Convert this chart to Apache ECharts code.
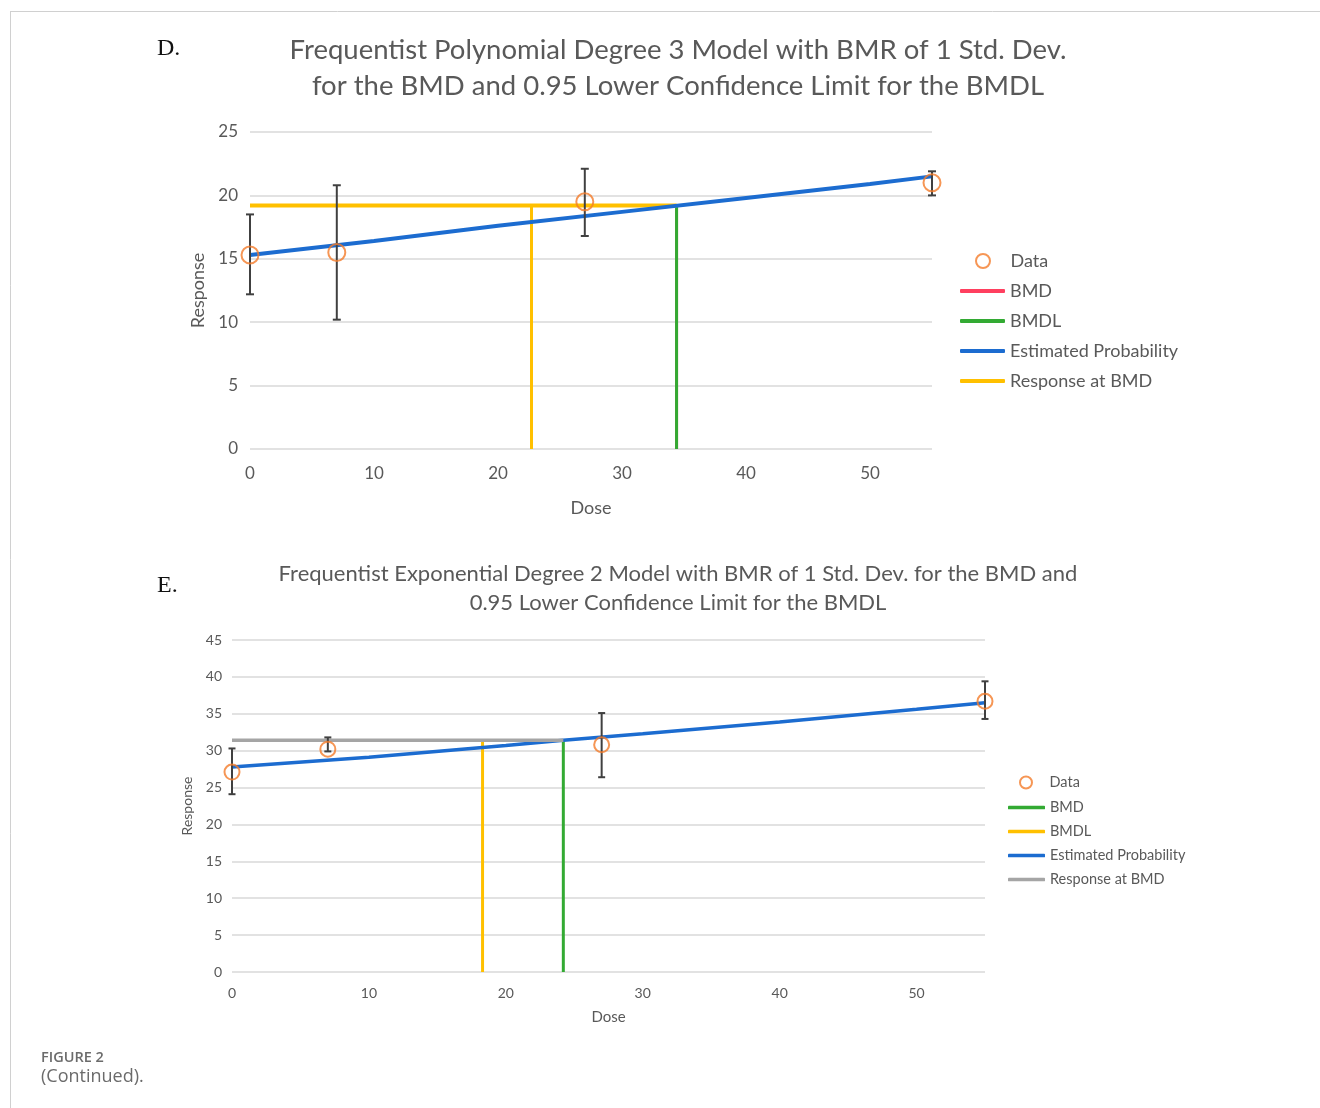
<!DOCTYPE html>
<html>
<head>
<meta charset="utf-8">
<script src="https://cdn.jsdelivr.net/npm/echarts@6/dist/echarts.min.js"></script>
<style>
html,body{margin:0;padding:0;background:#fff;}
#c{width:1320px;height:1108px;}
</style>
</head>
<body>
<div id="c"></div>
<script>
// ---------- Panel D data ----------
const doseD = [0, 7, 27, 55];
const respD = [15.3, 15.5, 19.5, 21.0];
const errLowD = [12.2, 10.2, 16.8, 20.0];
const errHighD = [18.5, 20.8, 22.1, 21.9];
const estDoseD = [0, 10, 20, 30, 40, 50, 55];
const estRespD = [15.3, 16.4, 17.6, 18.7, 19.8, 20.9, 21.5];
const respAtBmdD = 19.2;
const bmdlDoseD = 34.4;
const yellowDoseD = 22.7;
const yTicksD = { min: 0, max: 25, interval: 5 };

// ---------- Panel E data ----------
const doseE = [0, 7, 27, 55];
const respE = [27.1, 30.2, 30.8, 36.7];
const errLowE = [24.1, 29.9, 26.4, 34.3];
const errHighE = [30.3, 31.8, 35.1, 39.4];
const estDoseE = [0, 10, 20, 24.2, 30, 40, 50, 55];
const estRespE = [27.8, 29.1, 30.7, 31.4, 32.3, 33.9, 35.6, 36.5];
const respAtBmdE = 31.4;
const bmdDoseE = 24.2;
const bmdlDoseE = 18.3;
const yTicksE = { min: 0, max: 45, interval: 5 };
const xTicks = { min: 0, max: 55, interval: 10 };

const linesLegendD = ['BMD', 'BMDL', 'Estimated Probability', 'Response at BMD'];
const linesLegendE = ['BMD ', 'BMDL ', 'Estimated Probability ', 'Response at BMD '];

const FONT = 'Lato, "Open Sans", sans-serif';
const TXT = '#595959';
const GRIDC = '#d9d9d9';
const C = { orange: '#f47c2a', blue: '#1c6cd0', yellow: '#ffc000', green: '#33aa33', red: '#ff3f5f', gray: '#a5a5a5', err: '#404040' };

function zip(a, b) { return a.map((v, i) => [v, b[i]]); }
function errData(d, lo, hi) { return d.map((v, i) => [v, lo[i], hi[i]]); }
function errRender(capHalf, lw) {
  return function (params, api) {
    const x = api.value(0), lo = api.value(1), hi = api.value(2);
    const a = api.coord([x, lo]), b = api.coord([x, hi]);
    const st = { stroke: C.err, lineWidth: lw };
    return {
      type: 'group', children: [
        { type: 'line', shape: { x1: a[0], y1: a[1], x2: b[0], y2: b[1] }, style: st },
        { type: 'line', shape: { x1: a[0] - capHalf, y1: a[1], x2: a[0] + capHalf, y2: a[1] }, style: st },
        { type: 'line', shape: { x1: b[0] - capHalf, y1: b[1], x2: b[0] + capHalf, y2: b[1] }, style: st }
      ]
    };
  };
}

function xAxis(gi, fs, margin, gap) {
  return {
    type: 'value', gridIndex: gi, min: xTicks.min, max: xTicks.max, interval: xTicks.interval,
    axisLine: { show: false }, axisTick: { show: false }, splitLine: { show: false },
    axisLabel: { color: TXT, fontFamily: FONT, fontSize: fs, margin: margin, showMaxLabel: false },
    name: 'Dose', nameLocation: 'middle', nameGap: gap,
    nameTextStyle: { color: TXT, fontFamily: FONT, fontSize: fs + 1 }
  };
}
function yAxis(gi, t, fs, margin, gap, nfs) {
  return {
    type: 'value', gridIndex: gi, min: t.min, max: t.max, interval: t.interval,
    axisLine: { show: false }, axisTick: { show: false },
    splitLine: { show: true, lineStyle: { color: GRIDC, width: 1.5 } },
    axisLabel: { color: TXT, fontFamily: FONT, fontSize: fs, margin: margin },
    name: 'Response', nameLocation: 'middle', nameGap: gap,
    nameTextStyle: { color: TXT, fontFamily: FONT, fontSize: nfs }
  };
}
function vline(xv, yv) { return [[xv, 0], [xv, yv]]; }
function hline(x0, x1, yv) { return [[x0, yv], [x1, yv]]; }
function lineSeries(name, gi, data, color, width, z) {
  return {
    name: name, type: 'line', xAxisIndex: gi, yAxisIndex: gi, data: data,
    symbol: 'none', showSymbol: false, clip: false, z: z, silent: true, animation: false,
    lineStyle: { color: color, width: width }, itemStyle: { color: color }
  };
}

const chart = echarts.init(document.getElementById('c'), null, { renderer: 'canvas' });
const option = {
  animation: false,
  backgroundColor: '#fff',
  grid: [
    { left: 250, right: 388, top: 132, height: 317 },
    { left: 232, right: 335, top: 640, height: 332 }
  ],
  xAxis: [xAxis(0, 17, 16, 50), xAxis(1, 14, 14, 38)],
  yAxis: [yAxis(0, yTicksD, 17, 12, 43, 18), yAxis(1, yTicksE, 14, 10, 37, 14)],
  legend: [
    {
      left: 975, top: 252, padding: 0, orient: 'vertical', itemWidth: 45, itemHeight: 14,
      textStyle: { color: TXT, fontFamily: FONT, fontSize: 18, lineHeight: 18 },
      data: ['Data']
    },
    {
      left: 960, top: 282, padding: 0, orient: 'vertical', itemWidth: 45, itemHeight: 4, itemGap: 12,
      icon: 'roundRect',
      textStyle: { color: TXT, fontFamily: FONT, fontSize: 18, lineHeight: 18 },
      data: linesLegendD
    },
    {
      left: 1019, top: 775, padding: 0, orient: 'vertical', itemWidth: 37, itemHeight: 12,
      textStyle: { color: TXT, fontFamily: FONT, fontSize: 14.5, lineHeight: 14 },
      data: ['Data ']
    },
    {
      left: 1008, top: 800, padding: 0, orient: 'vertical', itemWidth: 37, itemHeight: 3.5, itemGap: 9,
      icon: 'roundRect',
      textStyle: { color: TXT, fontFamily: FONT, fontSize: 14.5, lineHeight: 14 },
      data: linesLegendE
    }
  ],
  graphic: [
    { type: 'line', shape: { x1: 10, y1: 11.5, x2: 1320, y2: 11.5 }, style: { stroke: '#d0d0d0', lineWidth: 1 } },
    { type: 'line', shape: { x1: 10.5, y1: 11, x2: 10.5, y2: 1108 }, style: { stroke: '#d0d0d0', lineWidth: 1 } },
    { type: 'text', x: 157, y: 49, style: { text: 'D.', font: '24px "Liberation Serif", serif', fill: '#111', textVerticalAlign: 'middle' } },
    { type: 'text', x: 157, y: 586, style: { text: 'E.', font: '24px "Liberation Serif", serif', fill: '#111', textVerticalAlign: 'middle' } },
    { type: 'text', x: 678, y: 50, style: { text: 'Frequentist Polynomial Degree 3 Model with BMR of 1 Std. Dev.', font: '27.5px ' + FONT, fill: TXT, textAlign: 'center', textVerticalAlign: 'middle' } },
    { type: 'text', x: 678, y: 86, style: { text: 'for the BMD and 0.95 Lower Confidence Limit for the BMDL', font: '27.5px ' + FONT, fill: TXT, textAlign: 'center', textVerticalAlign: 'middle' } },
    { type: 'text', x: 678, y: 574, style: { text: 'Frequentist Exponential Degree 2 Model with BMR of 1 Std. Dev. for the BMD and', font: '22px ' + FONT, fill: TXT, textAlign: 'center', textVerticalAlign: 'middle' } },
    { type: 'text', x: 678, y: 603, style: { text: '0.95 Lower Confidence Limit for the BMDL', font: '22px ' + FONT, fill: TXT, textAlign: 'center', textVerticalAlign: 'middle' } },
    { type: 'text', x: 41, y: 1058, style: { text: 'FIGURE 2', font: '600 14.5px "Open Sans", sans-serif', fill: '#6b6b6b', textVerticalAlign: 'middle' } },
    { type: 'text', x: 41, y: 1077, style: { text: '(Continued).', font: '18px "Open Sans", sans-serif', fill: '#6b6b6b', textVerticalAlign: 'middle' } }
  ],
  series: [
    // ----- Panel D -----
    lineSeries('BMD', 0, vline(bmdlDoseD, respAtBmdD), C.red, 3, 2),
    lineSeries('BMDL', 0, vline(bmdlDoseD, respAtBmdD), C.green, 3, 3),
    lineSeries('Response at BMD', 0, vline(yellowDoseD, respAtBmdD), C.yellow, 3, 3),
    lineSeries('Response at BMD', 0, hline(0, bmdlDoseD, respAtBmdD), C.yellow, 4, 4),
    lineSeries('Estimated Probability', 0, zip(estDoseD, estRespD), C.blue, 4, 5),
    {
      name: 'errD', type: 'custom', xAxisIndex: 0, yAxisIndex: 0, data: errData(doseD, errLowD, errHighD),
      renderItem: errRender(4, 2), encode: { x: 0, y: [1, 2] }, clip: false, z: 6, silent: true
    },
    {
      name: 'Data', type: 'scatter', xAxisIndex: 0, yAxisIndex: 0, data: zip(doseD, respD),
      symbol: 'circle', symbolSize: 17, clip: false, z: 7, silent: true,
      itemStyle: { color: 'rgba(255,255,255,0)', borderColor: C.orange, borderWidth: 2 }
    },
    // ----- Panel E -----
    lineSeries('BMD ', 1, vline(bmdDoseE, respAtBmdE), C.green, 3, 3),
    lineSeries('BMDL ', 1, vline(bmdlDoseE, respAtBmdE), C.yellow, 3, 3),
    lineSeries('Estimated Probability ', 1, zip(estDoseE, estRespE), C.blue, 3.5, 4),
    lineSeries('Response at BMD ', 1, hline(0, bmdDoseE, respAtBmdE), C.gray, 3.5, 5),
    {
      name: 'errE', type: 'custom', xAxisIndex: 1, yAxisIndex: 1, data: errData(doseE, errLowE, errHighE),
      renderItem: errRender(3.5, 2), encode: { x: 0, y: [1, 2] }, clip: false, z: 6, silent: true
    },
    {
      name: 'Data ', type: 'scatter', xAxisIndex: 1, yAxisIndex: 1, data: zip(doseE, respE),
      symbol: 'circle', symbolSize: 15, clip: false, z: 7, silent: true,
      itemStyle: { color: 'rgba(255,255,255,0)', borderColor: C.orange, borderWidth: 2 }
    }
  ]
};
chart.setOption(option);
</script>
</body>
</html>
